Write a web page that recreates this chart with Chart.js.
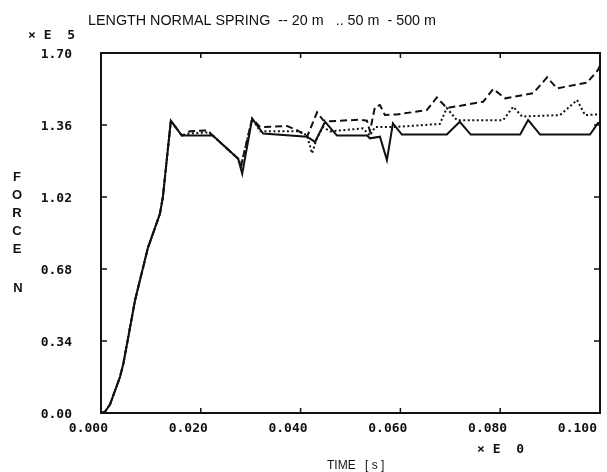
<!DOCTYPE html>
<html lang="en">
<head>
<meta charset="UTF-8">
<title>Force vs time</title>
<script src="https://cdn.jsdelivr.net/npm/chart.js@4.4.0/dist/chart.umd.min.js"></script>
<style>
  html, body { margin: 0; padding: 0; background: #fff; }
</style>
</head>
<body>
<canvas id="chart" width="607" height="472"></canvas>
<script>
// shared start of the three curves (time in s, force in 1e5 N)
const riseT = [0, 0.0008, 0.0018, 0.0038, 0.0045, 0.0068, 0.0094, 0.0118, 0.0124, 0.0140, 0.0162];
const riseF = [0, 0.006, 0.04, 0.17, 0.235, 0.53, 0.78, 0.94, 1.02, 1.38, 1.31];

// 500 m (solid)
const solidT = [0.0224, 0.0275, 0.0283, 0.0303, 0.0325, 0.0413, 0.0429, 0.0449, 0.0473, 0.0533, 0.0539, 0.0559, 0.0573, 0.0585, 0.0603, 0.0693, 0.0719, 0.0741, 0.0840, 0.0856, 0.0880, 0.0980, 0.0996, 0.1000];
const solidF = [1.31, 1.20, 1.13, 1.39, 1.32, 1.305, 1.28, 1.375, 1.31, 1.31, 1.297, 1.305, 1.195, 1.368, 1.315, 1.315, 1.375, 1.315, 1.315, 1.383, 1.315, 1.315, 1.37, 1.37];

// 20 m (dashed)
const dashT = [0.0178, 0.0214, 0.0224, 0.0275, 0.0281, 0.0303, 0.0319, 0.0373, 0.0393, 0.0413, 0.0433, 0.0445, 0.0459, 0.0519, 0.0533, 0.0539, 0.0549, 0.0559, 0.0569, 0.0593, 0.0653, 0.0673, 0.0693, 0.0766, 0.0786, 0.0810, 0.0866, 0.0894, 0.0914, 0.0974, 0.0996, 0.1000];
const dashF = [1.33, 1.335, 1.31, 1.20, 1.17, 1.39, 1.35, 1.355, 1.336, 1.305, 1.42, 1.383, 1.378, 1.385, 1.38, 1.33, 1.446, 1.454, 1.407, 1.41, 1.43, 1.49, 1.44, 1.47, 1.53, 1.486, 1.51, 1.585, 1.533, 1.56, 1.62, 1.64];

// 50 m (dotted)
const dotT = [0.0178, 0.0214, 0.0224, 0.0275, 0.0281, 0.0303, 0.0319, 0.0399, 0.0413, 0.0423, 0.0433, 0.0445, 0.0459, 0.0525, 0.0539, 0.0549, 0.0585, 0.0679, 0.0693, 0.0713, 0.0806, 0.0826, 0.0844, 0.0920, 0.0954, 0.0970, 0.1000];
const dotF = [1.32, 1.325, 1.31, 1.20, 1.17, 1.39, 1.33, 1.33, 1.31, 1.226, 1.30, 1.35, 1.33, 1.344, 1.31, 1.35, 1.35, 1.365, 1.44, 1.383, 1.383, 1.446, 1.40, 1.407, 1.478, 1.407, 1.41];

const yTicks = [0, 0.34, 0.68, 1.02, 1.36, 1.70];
const yTickLabels = ['0.00', '0.34', '0.68', '1.02', '1.36', '1.70'];
const xTicks = [0, 0.02, 0.04, 0.06, 0.08, 0.1];
const xTickLabels = ['0.000', '0.020', '0.040', '0.060', '0.080', '0.100'];

const titleText = 'LENGTH NORMAL SPRING  -- 20 m   .. 50 m  - 500 m';
const yTitle = ['F', 'O', 'R', 'C', 'E'];

function pts(t, f) {
    return t.map((v, i) => ({x: v, y: f[i]}));
}

const ink = '#111';
const mono = 'bold 13px "DejaVu Sans Mono", monospace';

const framePlugin = {
    id: 'frame',
    afterDraw(chart) {
        const ctx = chart.ctx;
        const a = chart.chartArea;
        const xs = chart.scales.x, ys = chart.scales.y;
        ctx.save();
        ctx.strokeStyle = ink;
        ctx.fillStyle = ink;

        // frame
        ctx.lineWidth = 2;
        ctx.strokeRect(a.left, a.top, a.right - a.left, a.bottom - a.top);

        // inward ticks
        ctx.lineWidth = 1.5;
        ctx.beginPath();
        yTicks.slice(1, -1).forEach(v => {
            const y = ys.getPixelForValue(v);
            ctx.moveTo(a.left, y); ctx.lineTo(a.left + 6, y);
            ctx.moveTo(a.right, y); ctx.lineTo(a.right - 6, y);
        });
        xTicks.slice(1, -1).forEach(v => {
            const x = xs.getPixelForValue(v);
            ctx.moveTo(x, a.bottom); ctx.lineTo(x, a.bottom - 5);
            ctx.moveTo(x, a.top); ctx.lineTo(x, a.top + 5);
        });
        ctx.stroke();

        // tick labels
        ctx.font = mono;
        ctx.textAlign = 'right';
        ctx.textBaseline = 'middle';
        yTicks.forEach((v, i) => {
            ctx.fillText(yTickLabels[i], a.left - 29, ys.getPixelForValue(v) + 2);
        });
        xTicks.forEach((v, i) => {
            const x = xs.getPixelForValue(v);
            const last = i === xTicks.length - 1;
            ctx.fillText(xTickLabels[i], last ? x - 3 : x + 7, a.bottom + 16);
        });

        // exponent notes
        ctx.textAlign = 'left';
        ctx.fillText('\u00d7 E  5', 28, 36);
        ctx.fillText('\u00d7 E  0', 477, a.bottom + 37);

        // titles
        ctx.font = '14.5px "Liberation Sans", Arial, sans-serif';
        ctx.fillText(titleText, 88, 21, 348);
        ctx.font = '12px "Liberation Sans", Arial, sans-serif';
        ctx.fillText('TIME', 327, 466);
        ctx.fillText('[ s ]', 365, 466);

        ctx.font = 'bold 13px "Liberation Sans", Arial, sans-serif';
        ctx.textAlign = 'center';
        yTitle.forEach((c, i) => ctx.fillText(c, 17, 177 + i * 18));
        ctx.fillText('N', 18, 288);
        ctx.restore();
    }
};

new Chart(document.getElementById('chart'), {
    type: 'line',
    data: {
        datasets: [
            {
                label: '500 m',
                data: pts(riseT.concat(solidT), riseF.concat(solidF)),
                borderColor: ink,
                borderWidth: 2,
                pointRadius: 0,
                tension: 0
            },
            {
                label: '50 m',
                data: pts(riseT.concat(dotT), riseF.concat(dotF)),
                borderColor: ink,
                borderWidth: 2,
                borderDash: [2, 2.5],
                pointRadius: 0,
                tension: 0
            },
            {
                label: '20 m',
                data: pts(riseT.concat(dashT), riseF.concat(dashF)),
                borderColor: ink,
                borderWidth: 2,
                borderDash: [7, 4],
                pointRadius: 0,
                tension: 0
            }
        ]
    },
    options: {
        responsive: false,
        animation: false,
        layout: { padding: { left: 101, right: 7, top: 53, bottom: 59 } },
        plugins: {
            legend: { display: false },
            title: { display: false },
            tooltip: { enabled: false }
        },
        scales: {
            x: { type: 'linear', min: 0, max: 0.1, display: false },
            y: { type: 'linear', min: 0, max: 1.70, display: false }
        }
    },
    plugins: [framePlugin]
});
</script>
</body>
</html>
